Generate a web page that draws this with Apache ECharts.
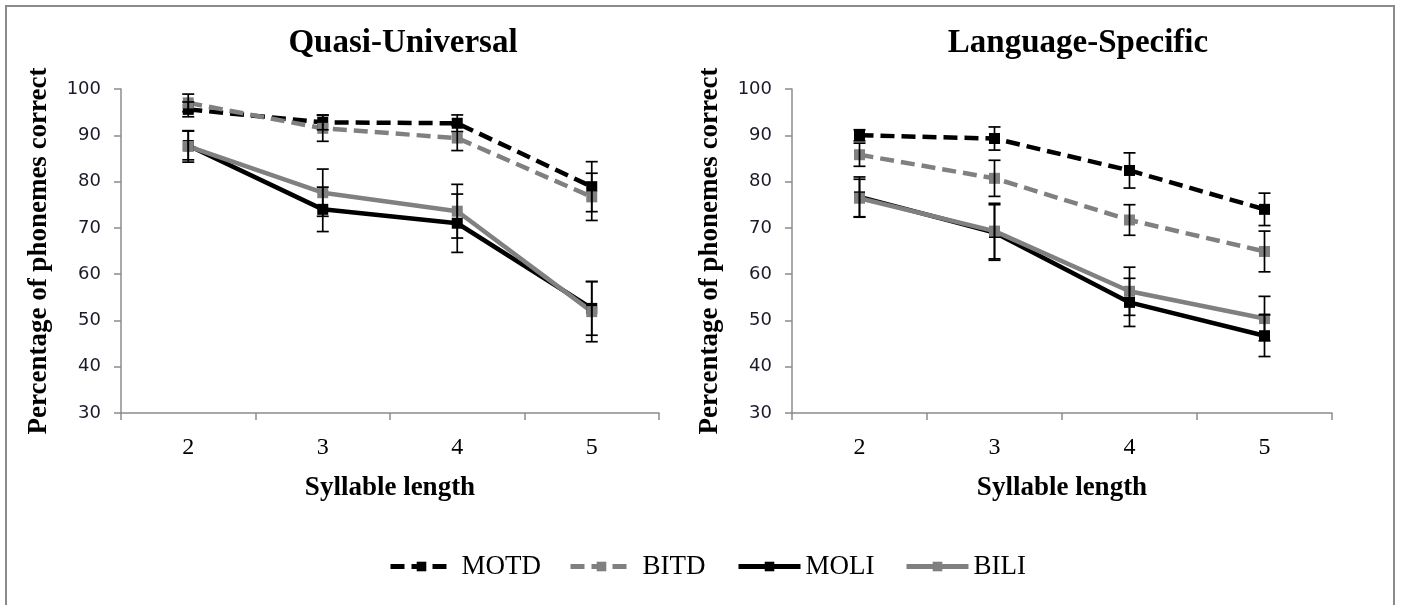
<!DOCTYPE html>
<html>
<head>
<meta charset="utf-8">
<script src="https://cdn.jsdelivr.net/npm/echarts@6/dist/echarts.min.js"></script>
<style>
html,body{margin:0;padding:0;background:#fff;}
#frame{position:absolute;left:5px;top:5px;width:1390px;height:620px;border:2px solid #8a8a8a;box-sizing:border-box;}
#chart{position:absolute;left:0;top:0;width:1403px;height:605px;}
</style>
</head>
<body>
<div id="frame"></div>
<div id="chart"></div>
<script>
// ---- data ----
const categories = ['2', '3', '4', '5'];
const seriesNames = ['MOTD', 'BITD', 'MOLI', 'BILI'];
const panelTitles = ['Quasi-Universal', 'Language-Specific'];
const yTicks = [30, 40, 50, 60, 70, 80, 90, 100];

// Quasi-Universal
const quMOTD = [95.6, 92.8, 92.6, 78.9];
const quBITD = [97.0, 91.5, 89.4, 76.7];
const quMOLI = [87.8, 74.0, 71.0, 52.6];
const quBILI = [87.6, 77.6, 73.6, 51.9];
const quMOTDerr = [1.6, 1.6, 1.8, 5.4];
const quBITDerr = [1.9, 2.8, 2.7, 5.1];
const quMOLIerr = [3.1, 4.8, 6.3, 5.8];
const quBILIerr = [3.4, 5.1, 5.8, 6.5];

// Language-Specific
const lsMOTD = [90.0, 89.3, 82.4, 74.0];
const lsBITD = [85.8, 80.7, 71.7, 64.9];
const lsMOLI = [76.7, 69.0, 53.9, 46.7];
const lsBILI = [76.4, 69.3, 56.3, 50.4];
const lsMOTDerr = [1.2, 2.5, 3.8, 3.5];
const lsBITDerr = [2.5, 3.9, 3.3, 4.4];
const lsMOLIerr = [4.3, 6.0, 5.2, 4.5];
const lsBILIerr = [4.1, 6.0, 5.2, 4.8];

const panels = [
  {vals: [quMOTD, quBITD, quMOLI, quBILI], errs: [quMOTDerr, quBITDerr, quMOLIerr, quBILIerr]},
  {vals: [lsMOTD, lsBITD, lsMOLI, lsBILI], errs: [lsMOTDerr, lsBITDerr, lsMOLIerr, lsBILIerr]}
];

// ---- styles ----
const serif = 'Liberation Serif';
const sans = 'DejaVu Sans';
const styles = [
  {color: '#000000', dash: [14, 7]},
  {color: '#808080', dash: [14, 7]},
  {color: '#000000', dash: 'solid'},
  {color: '#808080', dash: 'solid'}
];
const gridDefs = [
  {left: 121, top: 89, width: 538, height: 324},
  {left: 792, top: 89, width: 540, height: 324}
];
const titleCenters = [403, 1078];
const legendLefts = [388, 568, 736, 904];
const legendTextGaps = [4, 5, 0, 0];

const chart = echarts.init(document.getElementById('chart'));

const grid = gridDefs.map(g => ({left: g.left, top: g.top, width: g.width, height: g.height, containLabel: false}));

const xAxis = gridDefs.map((g, i) => ({
  type: 'category', gridIndex: i, data: categories, boundaryGap: true,
  name: 'Syllable length', nameLocation: 'middle', nameGap: 62,
  nameTextStyle: {fontFamily: serif, fontWeight: 'bold', fontSize: 27, color: '#000'},
  axisLine: {lineStyle: {color: '#8c8c8c', width: 1.5}},
  axisTick: {show: true, alignWithLabel: false, length: 7, lineStyle: {color: '#8c8c8c', width: 1.5}},
  axisLabel: {fontFamily: serif, fontSize: 24, color: '#000', margin: 23},
  splitLine: {show: false}
}));

const yAxis = gridDefs.map((g, i) => ({
  type: 'value', gridIndex: i, min: yTicks[0], max: yTicks[yTicks.length - 1], interval: 10,
  name: 'Percentage of phonemes correct', nameLocation: 'middle', nameGap: 68, nameRotate: 90,
  nameTextStyle: {fontFamily: serif, fontWeight: 'bold', fontSize: 27, color: '#000'},
  axisLine: {show: true, lineStyle: {color: '#8c8c8c', width: 1.5}},
  axisTick: {show: true, length: 7, lineStyle: {color: '#8c8c8c', width: 1.5}},
  axisLabel: {fontFamily: sans, fontSize: 18, color: '#1a1a2a', margin: 20},
  splitLine: {show: false}
}));

const series = [];
panels.forEach((p, pi) => {
  p.vals.forEach((vals, si) => {
    series.push({
      name: seriesNames[si], type: 'line', xAxisIndex: pi, yAxisIndex: pi,
      data: vals, symbol: 'rect', symbolSize: 11, z: 3 + (si < 2 ? 1 : 0),
      itemStyle: {color: styles[si].color},
      lineStyle: {color: styles[si].color, width: 4.5, type: styles[si].dash},
      animation: false
    });
  });
  p.vals.forEach((vals, si) => {
    const errData = vals.map((v, k) => [k, v - p.errs[si][k], v + p.errs[si][k]]);
    series.push({
      type: 'custom', xAxisIndex: pi, yAxisIndex: pi, z: 10, silent: true, animation: false,
      data: errData,
      renderItem: function (params, api) {
        const x = api.value(0);
        const lo = api.coord([x, api.value(1)]);
        const hi = api.coord([x, api.value(2)]);
        const hw = 6;
        const st = {stroke: '#000', lineWidth: 1.7};
        return {type: 'group', children: [
          {type: 'line', shape: {x1: lo[0], y1: lo[1], x2: hi[0], y2: hi[1]}, style: st},
          {type: 'line', shape: {x1: lo[0] - hw, y1: lo[1], x2: lo[0] + hw, y2: lo[1]}, style: st},
          {type: 'line', shape: {x1: hi[0] - hw, y1: hi[1], x2: hi[0] + hw, y2: hi[1]}, style: st}
        ]};
      }
    });
  });
});

const legends = seriesNames.map((n, i) => ({
  data: [n], left: legendLefts[i], top: 553, itemWidth: 62, itemHeight: 12, padding: 0,
  lineStyle: {width: 5},
  textStyle: {fontFamily: serif, fontSize: 27, color: '#000', padding: [0, 0, 0, legendTextGaps[i]]}
}));

chart.setOption({
  animation: false,
  backgroundColor: 'transparent',
  title: panelTitles.map((t, i) => ({
    text: t, left: titleCenters[i], top: 27, textAlign: 'center', padding: 0,
    textStyle: {fontFamily: serif, fontWeight: 'bold', fontSize: 33, color: '#000'}
  })),
  grid: grid, xAxis: xAxis, yAxis: yAxis,
  legend: legends,
  series: series
});
</script>
</body>
</html>
